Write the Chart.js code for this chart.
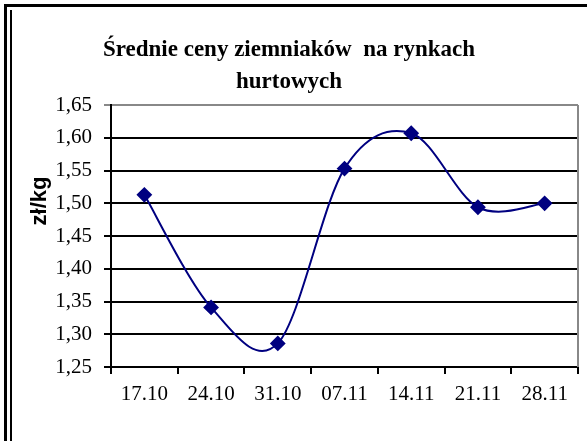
<!DOCTYPE html>
<html>
<head>
<meta charset="utf-8">
<script src="https://cdn.jsdelivr.net/npm/chart.js@4/dist/chart.umd.min.js"></script>
<style>
    html, body { margin: 0; padding: 0; background: #fff; }
    #wrap { position: relative; width: 587px; height: 441px; overflow: hidden; }
    #frame { position: absolute; left: 4px; top: 4px; width: 600px; height: 500px;
             border-top: 3px solid #000; border-left: 3px solid #000; }
    #inner { position: absolute; left: 10px; top: 10px; width: 2px; height: 500px; background: #000; }
    canvas { position: absolute; left: 0; top: 0; }
</style>
</head>
<body>
<div id="wrap">
    <canvas id="priceChart" width="587" height="441"></canvas>
    <div id="frame"></div>
    <div id="inner"></div>
</div>
<script>
// Chart data
const weeks = ['17.10', '24.10', '31.10', '07.11', '14.11', '21.11', '28.11'];
const prices = [1.513, 1.341, 1.286, 1.553, 1.607, 1.494, 1.500];
const titleLines = ['Średnie ceny ziemniaków  na rynkach', 'hurtowych'];
const yLabel = 'zł/kg';
const yMin = 1.25, yMax = 1.65, yStep = 0.05;

const serif = '"Liberation Serif", "Times New Roman", serif';

// Excel-like smoothing: uniform Catmull-Rom control points
// (computed from the points Chart.js already placed on its scales)
const smoothPlugin = {
    id: 'smooth',
    beforeDatasetDraw(chart, args) {
        const line = args.meta.dataset;
        const pts = args.meta.data;
        if (!line || !pts.length) return;
        if (line.updateControlPoints) line.updateControlPoints(chart.chartArea, 'x');
        for (let i = 0; i < pts.length; i++) {
            const p = pts[i];
            const prev = pts[Math.max(i - 1, 0)];
            const next = pts[Math.min(i + 1, pts.length - 1)];
            const dx = (next.x - prev.x) / 6;
            const dy = (next.y - prev.y) / 6;
            p.cp1x = p.x - dx; p.cp1y = p.y - dy;
            p.cp2x = p.x + dx; p.cp2y = p.y + dy;
        }
        line._path = undefined;
    }
};

// Y-axis title + gray right border of the plot area
const extrasPlugin = {
    id: 'extras',
    afterDraw(chart) {
        const ctx = chart.ctx;
        const area = chart.chartArea;
        ctx.save();
        ctx.strokeStyle = '#888';
        ctx.lineWidth = 2;
        ctx.beginPath();
        ctx.moveTo(area.right, area.top);
        ctx.lineTo(area.right, area.bottom);
        ctx.stroke();

        ctx.translate(40, 201);
        ctx.rotate(-Math.PI / 2);
        ctx.fillStyle = '#000';
        ctx.font = 'bold 22px "Liberation Sans", Arial, sans-serif';
        ctx.textAlign = 'center';
        ctx.textBaseline = 'middle';
        ctx.fillText(yLabel, 0, 0);
        ctx.restore();
    }
};

function initChart() {
    const ctx = document.getElementById('priceChart').getContext('2d');
    new Chart(ctx, {
        type: 'line',
        data: {
            labels: weeks,
            datasets: [{
                data: prices,
                borderColor: '#000080',
                backgroundColor: '#000080',
                borderWidth: 2,
                tension: 0.4,
                pointStyle: 'rectRot',
                pointRadius: 6.5,
                pointHoverRadius: 6.5
            }]
        },
        options: {
            responsive: false,
            animation: false,
            layout: { padding: { left: 0, right: 9, top: 0, bottom: 0 } },
            plugins: {
                legend: { display: false },
                tooltip: { enabled: false },
                title: {
                    display: true,
                    text: titleLines,
                    color: '#000',
                    font: { family: serif, size: 23, weight: 'bold', lineHeight: 1.35 },
                    padding: { top: 35, bottom: 8 }
                }
            },
            scales: {
                x: {
                    offset: true,
                    grid: {
                        offset: true,
                        drawOnChartArea: false,
                        drawTicks: true,
                        tickLength: 7,
                        color: '#000',
                        lineWidth: 2
                    },
                    border: { color: '#000', width: 2 },
                    ticks: {
                        color: '#000',
                        padding: 8,
                        maxRotation: 0,
                        font: { family: serif, size: 21 }
                    },
                    afterFit(scale) { scale.height = 74; }
                },
                y: {
                    min: yMin,
                    max: yMax,
                    grid: {
                        color: c => (c.tick && Math.abs(c.tick.value - yMax) < 1e-6) ? '#888' : '#000',
                        lineWidth: 2,
                        tickLength: 7
                    },
                    border: { color: '#000', width: 2 },
                    ticks: {
                        stepSize: yStep,
                        color: '#000',
                        padding: 12,
                        font: { family: serif, size: 21 },
                        callback: v => v.toFixed(2).replace('.', ',')
                    },
                    afterFit(scale) { scale.width = 111; }
                }
            }
        },
        plugins: [smoothPlugin, extrasPlugin]
    });
}

initChart();
</script>
</body>
</html>
